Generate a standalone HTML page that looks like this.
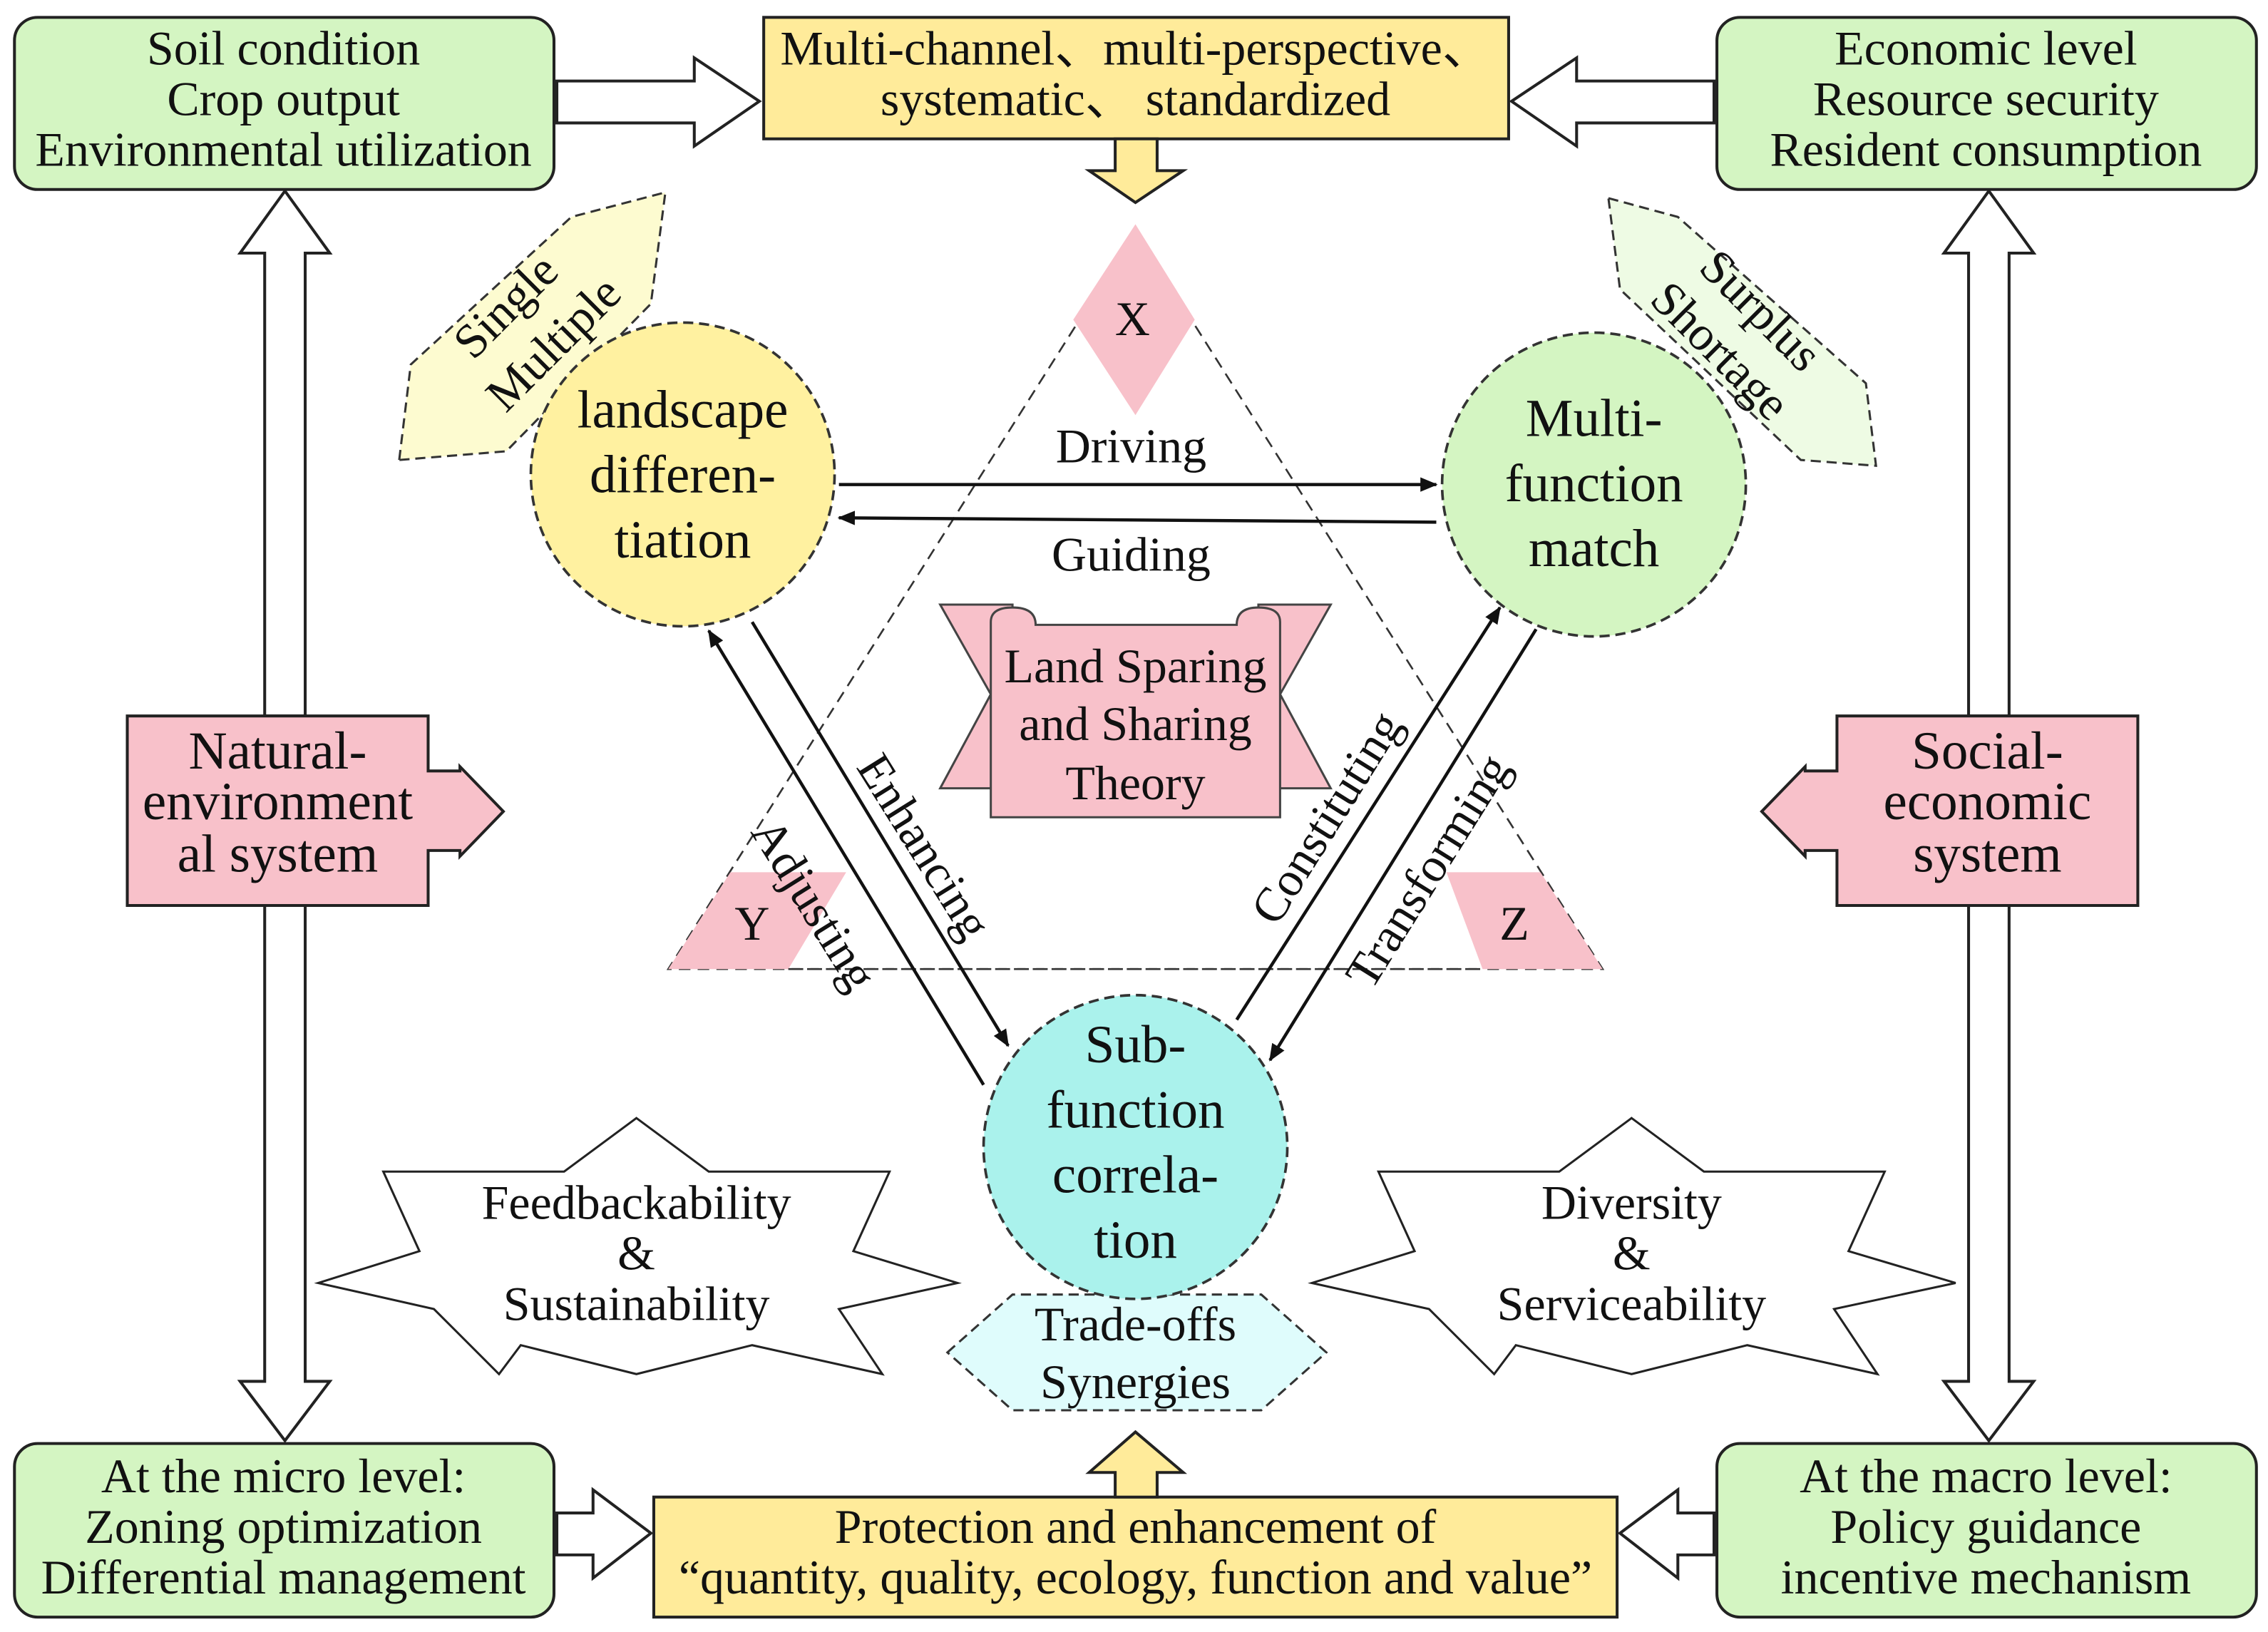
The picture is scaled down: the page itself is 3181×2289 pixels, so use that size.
<!DOCTYPE html>
<html><head><meta charset="utf-8"><style>
html,body{margin:0;padding:0;background:#fff}
svg{display:block}
text{font-family:"Liberation Serif",serif;fill:#111;text-anchor:middle;dominant-baseline:middle}
</style></head><body>
<svg width="3181" height="2289" viewBox="0 0 1568 1128.3" preserveAspectRatio="none" xmlns="http://www.w3.org/2000/svg">
<defs>
<marker id="ah" markerWidth="12" markerHeight="10" refX="11" refY="5" orient="auto" markerUnits="userSpaceOnUse"><path d="M0,0 L12,5 L0,10 Z" fill="#111"/></marker>
</defs>
<g stroke="#222" stroke-width="2">
<rect x="10" y="12" width="373" height="119" rx="16" fill="#d4f5c2"/>
<rect x="528" y="12" width="515" height="84" fill="#ffeb9a"/>
<rect x="1187" y="12" width="373" height="119" rx="16" fill="#d4f5c2"/>
<rect x="10" y="998" width="373" height="120" rx="16" fill="#d4f5c2"/>
<rect x="452" y="1035" width="666" height="83" fill="#ffeb9a"/>
<rect x="1187" y="998" width="373" height="120" rx="16" fill="#d4f5c2"/>
<path d="M385,56 H480 V40 L525,70 L480,101 V85 H385 Z" fill="#fff"/>
<path d="M1185,56 H1090 V40 L1045,70 L1090,101 V85 H1185 Z" fill="#fff"/>
<path d="M385,1046 H410 V1030 L450,1060 L410,1091 V1075 H385 Z" fill="#fff"/>
<path d="M1185,1046 H1160 V1030 L1120,1060 L1160,1091 V1075 H1185 Z" fill="#fff"/>
<path d="M771,96 V118 H753 L785,140 L818,118 H800 V96 Z" fill="#ffeb9a"/>
<path d="M771,1035 V1018 H753 L785,990 L818,1018 H800 V1035 Z" fill="#ffeb9a"/>
<path d="M183,495 V175 H166 L197,132 L228,175 H211 V495 Z" fill="#fff"/>
<path d="M183,626 V955 H166 L197,996 L228,955 H211 V626 Z" fill="#fff"/>
<path d="M1361,495 V175 H1344 L1375,132 L1406,175 H1389 V495 Z" fill="#fff"/>
<path d="M1361,626 V955 H1344 L1375,996 L1406,955 H1389 V626 Z" fill="#fff"/>
<path d="M88,495 H296 V533 H318 V530 L348,561 L318,592 V588 H296 V626 H88 Z" fill="#f8c1ca"/>
<path d="M1478,495 H1270 V533 H1248 V530 L1218,561 L1248,592 V588 H1270 V626 H1478 Z" fill="#f8c1ca"/>
</g>
<polygon points="785,160 462,670 1108,670" fill="none" stroke="#333" stroke-width="1.3" stroke-dasharray="8,5"/>
<polygon points="785,155 826,221 785,287 742,221" fill="#f8c1ca"/>
<polygon points="462,670 505,603 585,603 545,670" fill="#f8c1ca"/>
<polygon points="1000,603 1065,603 1108,670 1025,670" fill="#f8c1ca"/>
<line x1="545" y1="670" x2="1025" y2="670" stroke="#333" stroke-width="1.3" stroke-dasharray="8,5"/>
<polygon points="276,318 284,252 395,150 460,133 450,210 350,312" fill="#fdfbd0" stroke="#333" stroke-width="1.5" stroke-dasharray="7,4"/>
<polygon points="1112,137 1160,150 1290,265 1297,322 1245,318 1120,200" fill="#eefbe4" stroke="#333" stroke-width="1.5" stroke-dasharray="7,4"/>
<polygon points="655,935 700,895 872,895 917,935 872,975 700,975" fill="#dffcfc" stroke="#333" stroke-width="1.5" stroke-dasharray="7,4"/>
<polygon points="440,773 490,810 615,810 590,865 662,887 580,905 610,950 520,930 440,950 360,930 345,950 300,905 220,887 290,865 265,810 390,810" fill="#fff" stroke="#222" stroke-width="1.5"/>
<polygon points="1128,773 1178,810 1303,810 1278,865 1352,887 1268,905 1298,950 1208,930 1128,950 1048,930 1033,950 988,905 907,887 978,865 953,810 1078,810" fill="#fff" stroke="#222" stroke-width="1.5"/>
<g stroke="#444" stroke-width="1.5" fill="#f8c1ca">
<polygon points="650,418 700,418 700,545 650,545 685,480"/>
<polygon points="920,418 870,418 870,545 920,545 885,480"/>
<path d="M685,565 V430 Q685,420 700,420 Q716,420 716,432 H855 Q855,420 870,420 Q885,420 885,430 V565 Z"/>
</g>
<circle cx="472" cy="328" r="105" fill="#fff1a0" stroke="#333" stroke-width="1.8" stroke-dasharray="7,4"/>
<circle cx="1102" cy="335" r="105" fill="#d4f5c2" stroke="#333" stroke-width="1.8" stroke-dasharray="7,4"/>
<circle cx="785" cy="793" r="105" fill="#aaf2ec" stroke="#333" stroke-width="1.8" stroke-dasharray="7,4"/>
<g stroke="#111" stroke-width="2.2" marker-end="url(#ah)">
<line x1="580" y1="335" x2="993" y2="335"/>
<line x1="993" y1="361" x2="580" y2="358"/>
<line x1="680" y1="750" x2="490" y2="436"/>
<line x1="520" y1="430" x2="697" y2="723"/>
<line x1="855" y1="705" x2="1037" y2="420"/>
<line x1="1062" y1="435" x2="878" y2="733"/>
</g>
<g transform="translate(0,2)">
<g font-size="33.5">
<text x="196" y="35">Soil condition</text><text x="196" y="70">Crop output</text><text x="196" y="105">Environmental utilization</text>
<text x="785" y="35">Multi-channel、multi-perspective、</text><text x="785" y="70">systematic、 standardized</text>
<text x="1373" y="35">Economic level</text><text x="1373" y="70">Resource security</text><text x="1373" y="105">Resident consumption</text>
<text x="196" y="1022">At the micro level:</text><text x="196" y="1057">Zoning optimization</text><text x="196" y="1092">Differential management</text>
<text x="785" y="1057">Protection and enhancement of</text><text x="785" y="1092">“quantity, quality, ecology, function and value”</text>
<text x="1373" y="1022">At the macro level:</text><text x="1373" y="1057">Policy guidance</text><text x="1373" y="1092">incentive mechanism</text>
<text x="782" y="310">Driving</text><text x="782" y="385">Guiding</text>
<text x="440" y="833">Feedbackability</text><text x="440" y="868">&amp;</text><text x="440" y="903">Sustainability</text>
<text x="1128" y="833">Diversity</text><text x="1128" y="868">&amp;</text><text x="1128" y="903">Serviceability</text>
<text x="785" y="917">Trade-offs</text><text x="785" y="957">Synergies</text>
<text x="785" y="462">Land Sparing</text><text x="785" y="502">and Sharing</text><text x="785" y="543">Theory</text>
<text x="783" y="222">X</text><text x="520" y="640">Y</text><text x="1047" y="640">Z</text>
<text transform="translate(560,625) rotate(58)">Adjusting</text>
<text transform="translate(636,585) rotate(58)">Enhancing</text>
<text transform="translate(920,565) rotate(-58)">Constituting</text>
<text transform="translate(990,602) rotate(-58)">Transforming</text>
<text transform="translate(352,212) rotate(-45)">Single</text>
<text transform="translate(385,238) rotate(-45)">Multiple</text>
<text transform="translate(1215,215) rotate(45)">Surplus</text>
<text transform="translate(1187,243) rotate(45)">Shortage</text>
</g>
<g font-size="37">
<text x="472" y="285">landscape</text><text x="472" y="330">differen-</text><text x="472" y="375">tiation</text>
<text x="1102" y="291">Multi-</text><text x="1102" y="336">function</text><text x="1102" y="381">match</text>
<text x="785" y="724">Sub-</text><text x="785" y="769">function</text><text x="785" y="814">correla-</text><text x="785" y="859">tion</text>
<text x="192" y="521">Natural-</text><text x="192" y="556">environment</text><text x="192" y="592">al system</text>
<text x="1374" y="521">Social-</text><text x="1374" y="556">economic</text><text x="1374" y="592">system</text>
</g>
</g>
</svg>
</body></html>
